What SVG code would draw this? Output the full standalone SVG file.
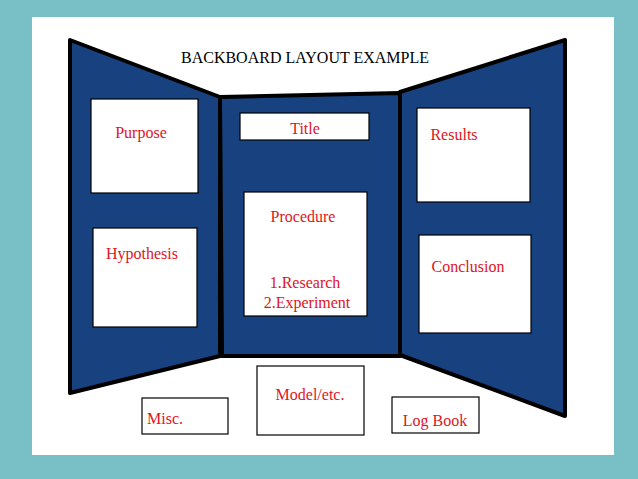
<svg xmlns="http://www.w3.org/2000/svg" width="638" height="479" viewBox="0 0 638 479">
<style>
.p{fill:#18417f;stroke:#000;stroke-width:4;stroke-linejoin:round}
.b{fill:#fff;stroke:#000;stroke-width:1.2}
.t{font-family:"Liberation Serif",serif;font-size:16px;fill:#e0141e;text-anchor:middle}
</style>
<rect width="638" height="479" fill="#78bfc6"/>
<rect x="32" y="17" width="582" height="438" fill="#fff"/>
<text x="305" y="63" font-family="Liberation Serif,serif" font-size="16" text-anchor="middle">BACKBOARD LAYOUT EXAMPLE</text>
<g id="left"><polygon class="p" points="70,40 220,97 220,356 70,393"/></g>
<g id="center"><polygon class="p" points="220,97 400,93 400,356 222,356"/></g>
<g id="right"><polygon class="p" points="400,92 565,40 565,416 400,355"/></g>
<g id="purpose"><rect class="b" x="91" y="99" width="107" height="94"/><text class="t" x="141" y="138">Purpose</text></g>
<g id="hypothesis"><rect class="b" x="93" y="228" width="104" height="99"/><text class="t" x="142" y="259">Hypothesis</text></g>
<g id="title"><rect class="b" x="240" y="113" width="129" height="27"/><text class="t" x="305" y="134">Title</text></g>
<g id="procedure"><rect class="b" x="244" y="192" width="123" height="124"/><text class="t" x="303" y="222">Procedure</text><text class="t" x="305" y="288">1.Research</text><text class="t" x="307" y="308">2.Experiment</text></g>
<g id="results"><rect class="b" x="417" y="108" width="113" height="94"/><text class="t" x="454" y="140">Results</text></g>
<g id="conclusion"><rect class="b" x="419" y="235" width="112" height="98"/><text class="t" x="468" y="272">Conclusion</text></g>
<g id="model"><rect class="b" x="257" y="366" width="107" height="69"/><text class="t" x="310" y="400">Model/etc.</text></g>
<g id="misc"><rect class="b" x="142" y="398" width="86" height="36"/><text class="t" x="165" y="424">Misc.</text></g>
<g id="logbook"><rect class="b" x="392" y="397" width="87" height="36"/><text class="t" x="435" y="426">Log Book</text></g>
<g id="connectors"/>
</svg>
